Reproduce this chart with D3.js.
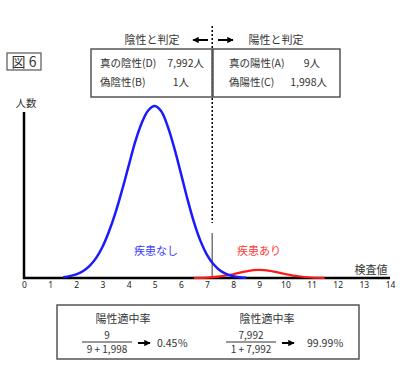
<!DOCTYPE html>
<html>
<head>
<meta charset="utf-8">
<script src="https://cdn.jsdelivr.net/npm/d3@7"></script>
<style>
  body { margin: 0; background: #fff; }
  svg { display: block; font-family: "Noto Sans CJK JP", "Noto Sans", sans-serif; }
  .box { fill: #fff; stroke: #555; stroke-width: 1.5; }
  .txt { fill: #333; }
</style>
</head>
<body>
<svg id="chart" width="400" height="368"></svg>
<script>
/* global d3 */
// 検査値の目盛り
const xTicks = [0, 1, 2, 3, 4, 5, 6, 7, 8, 9, 10, 11, 12, 13, 14];
// 疾患なし (peak = 100)
const healthyX = [1.5, 1.75, 2, 2.25, 2.5, 2.75, 3, 3.25, 3.5, 3.75, 4, 4.25, 4.5, 4.75, 5,
  5.25, 5.5, 5.75, 6, 6.25, 6.5, 6.75, 7, 7.25, 7.5, 7.75, 8, 8.25, 8.5];
const healthyY = [0.5, 1.1, 2.1, 3.9, 6.9, 11.4, 18, 27, 38, 51, 65, 79, 90, 97.4, 100,
  97, 88, 75.5, 61, 46, 32.5, 21.6, 13.5, 8, 4.4, 2.3, 1.1, 0.5, 0.2];
// 疾患あり
const diseasedX = [6.5, 7, 7.5, 8, 8.5, 9, 9.5, 10, 10.5, 11, 11.5];
const diseasedY = [0.05, 0.25, 0.9, 2.2, 3.9, 4.7, 3.9, 2.3, 1.0, 0.3, 0.05];
const cutoff = 7.2;

const leftLines = [["真の陰性(D)", "7,992人"], ["偽陰性(B)", "1人"]];
const rightLines = [["真の陽性(A)", "9人"], ["偽陽性(C)", "1,998人"]];

const svg = d3.select("#chart");
const x = d3.scaleLinear().domain([0, 14]).range([24, 390]);
const y = d3.scaleLinear().domain([0, 100]).range([278, 106]);
const cx = x(cutoff);

const arrowHead = (id) => {
  svg.append("defs").append("marker")
    .attr("id", id).attr("viewBox", "0 0 10 10").attr("refX", 9).attr("refY", 5)
    .attr("markerWidth", 3.2).attr("markerHeight", 3.2).attr("orient", "auto-start-reverse")
    .append("path").attr("d", "M0,0 L10,5 L0,10 z").attr("fill", "#000");
};
arrowHead("ah");

// 点線 (カットオフ)
svg.append("line").attr("x1", cx).attr("x2", cx).attr("y1", 26).attr("y2", 223)
  .attr("stroke", "#000").attr("stroke-width", 1.5).attr("stroke-dasharray", "2,2");
svg.append("line").attr("x1", cx).attr("x2", cx).attr("y1", 233).attr("y2", 278)
  .attr("stroke", "#777").attr("stroke-width", 1.5);

// 上の判定ラベル
svg.append("text").attr("class", "txt").attr("x", 152).attr("y", 40).attr("dy", "0.35em")
  .attr("text-anchor", "middle").attr("font-size", 11).text("陰性と判定");
svg.append("text").attr("class", "txt").attr("x", 276).attr("y", 40).attr("dy", "0.35em")
  .attr("text-anchor", "middle").attr("font-size", 11).text("陽性と判定");
svg.append("line").attr("x1", 208).attr("x2", 193).attr("y1", 40).attr("y2", 40)
  .attr("stroke", "#000").attr("stroke-width", 2).attr("marker-end", "url(#ah)");
svg.append("line").attr("x1", 218).attr("x2", 233).attr("y1", 40).attr("y2", 40)
  .attr("stroke", "#000").attr("stroke-width", 2).attr("marker-end", "url(#ah)");

// 上のボックス
svg.append("rect").attr("class", "box").attr("x", 91).attr("y", 49).attr("width", 121).attr("height", 48);
svg.append("rect").attr("class", "box").attr("x", 213).attr("y", 49).attr("width", 127).attr("height", 48);
const boxFont = 10.5;
leftLines.forEach((l, i) => {
  svg.append("text").attr("class", "txt").attr("x", 100).attr("y", 63 + i * 19).attr("dy", "0.35em")
    .attr("font-size", boxFont).text(l[0]);
});
svg.append("text").attr("class", "txt").attr("x", 204).attr("y", 63).attr("dy", "0.35em")
  .attr("text-anchor", "end").attr("font-size", boxFont).text(leftLines[0][1]);
svg.append("text").attr("class", "txt").attr("x", 189).attr("y", 82).attr("dy", "0.35em")
  .attr("text-anchor", "end").attr("font-size", boxFont).text(leftLines[1][1]);
rightLines.forEach((l, i) => {
  svg.append("text").attr("class", "txt").attr("x", 229).attr("y", 63 + i * 19).attr("dy", "0.35em")
    .attr("font-size", boxFont).text(l[0]);
  svg.append("text").attr("class", "txt").attr("x", i === 0 ? 320 : 327).attr("y", 63 + i * 19).attr("dy", "0.35em")
    .attr("text-anchor", "end").attr("font-size", boxFont).text(l[1]);
});

// 図6
svg.append("rect").attr("x", 7).attr("y", 53).attr("width", 34).attr("height", 17)
  .attr("fill", "none").attr("stroke", "#555").attr("stroke-width", 1.2);
svg.append("text").attr("class", "txt").attr("x", 24).attr("y", 62).attr("dy", "0.36em")
  .attr("text-anchor", "middle").attr("font-size", 14).text("図 6");
svg.append("text").attr("class", "txt").attr("x", 26).attr("y", 103).attr("dy", "0.35em")
  .attr("text-anchor", "middle").attr("font-size", 10.5).text("人数");

// 軸
svg.append("line").attr("x1", x(0)).attr("x2", x(0)).attr("y1", 112).attr("y2", 279)
  .attr("stroke", "#000").attr("stroke-width", 2.5);
svg.append("line").attr("x1", x(0) - 1).attr("x2", x(14)).attr("y1", 278).attr("y2", 278)
  .attr("stroke", "#000").attr("stroke-width", 2.5);

const axis = svg.append("g").attr("transform", "translate(0,279)")
  .call(d3.axisBottom(x).tickValues(xTicks).tickSize(0).tickPadding(3).tickFormat(d3.format("d")));
axis.select(".domain").remove();
axis.selectAll("text").attr("font-size", 8.5).attr("fill", "#222")
  .attr("font-family", "'Noto Sans', sans-serif");

svg.append("text").attr("class", "txt").attr("x", 371).attr("y", 270).attr("dy", "0.35em")
  .attr("text-anchor", "middle").attr("font-size", 11).text("検査値");

// 分布曲線
const line = (xs) => d3.line().x((d, i) => x(xs[i])).y((d) => y(d)).curve(d3.curveCatmullRom.alpha(0.5));
svg.append("path").datum(diseasedY).attr("d", line(diseasedX))
  .attr("fill", "none").attr("stroke", "#ff1a1a").attr("stroke-width", 2.2);
svg.append("path").datum(healthyY).attr("d", line(healthyX))
  .attr("fill", "none").attr("stroke", "#1a1aff").attr("stroke-width", 2.5);

svg.append("text").attr("x", 156).attr("y", 251).attr("dy", "0.35em").attr("text-anchor", "middle")
  .attr("font-size", 11).attr("fill", "#3c3cff").text("疾患なし");
svg.append("text").attr("x", 259).attr("y", 251).attr("dy", "0.35em").attr("text-anchor", "middle")
  .attr("font-size", 11).attr("fill", "#ff3a3a").text("疾患あり");

// 下のボックス (適中率)
svg.append("rect").attr("class", "box").attr("x", 57).attr("y", 305).attr("width", 302).attr("height", 54);
const frac = (cxp, title, num, den, res, resX) => {
  svg.append("text").attr("class", "txt").attr("x", cxp + 16).attr("y", 319).attr("dy", "0.35em")
    .attr("text-anchor", "middle").attr("font-size", 11).text(title);
  svg.append("text").attr("class", "txt").attr("x", cxp).attr("y", 335).attr("dy", "0.35em")
    .attr("text-anchor", "middle").attr("font-size", 10).text(num);
  svg.append("line").attr("x1", cxp - 25).attr("x2", cxp + 25).attr("y1", 342).attr("y2", 342)
    .attr("stroke", "#333").attr("stroke-width", 1.2);
  svg.append("text").attr("class", "txt").attr("x", cxp).attr("y", 349).attr("dy", "0.35em")
    .attr("text-anchor", "middle").attr("font-size", 10).text(den);
  svg.append("line").attr("x1", cxp + 31).attr("x2", cxp + 43).attr("y1", 343).attr("y2", 343)
    .attr("stroke", "#000").attr("stroke-width", 2).attr("marker-end", "url(#ah)");
  svg.append("text").attr("class", "txt").attr("x", resX).attr("y", 343).attr("dy", "0.35em")
    .attr("font-size", 10.5).text(res);
};
frac(107, "陽性適中率", "9", "9 + 1,998", "0.45％", 157);
frac(251, "陰性適中率", "7,992", "1 + 7,992", "99.99％", 307);
</script>
</body>
</html>
